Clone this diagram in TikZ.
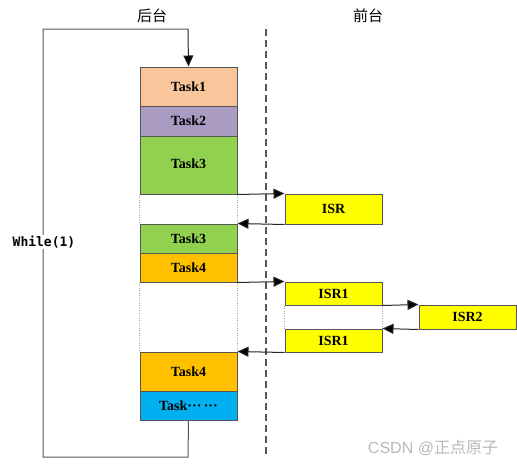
\documentclass[tikz,border=0pt]{standalone}
\usepackage{fontspec}
\setmainfont{Liberation Serif}
\newfontfamily\cjk{Noto Sans CJK SC}
\newfontfamily\monof{DejaVu Sans Mono}
\newfontfamily\sansf{Liberation Sans}
\usetikzlibrary{arrows.meta}
\definecolor{peach}{HTML}{F9C59B}
\definecolor{lav}{HTML}{A99BC1}
\definecolor{grn}{HTML}{92D050}
\definecolor{org}{HTML}{FFC000}
\definecolor{sky}{HTML}{00B0F0}
\definecolor{yel}{HTML}{FFFF00}
\definecolor{edge}{HTML}{555555}
\begin{document}
\begin{tikzpicture}[x=1pt,y=-1pt,
  blk/.style={draw=edge,line width=1pt,inner sep=0pt,font=\bfseries\fontsize{14}{16}\selectfont},
  conn/.style={draw=black!85,line width=1pt,-{Triangle[length=11pt,width=10pt,fill=black]}},
  loopl/.style={draw=edge,line width=1pt},
  dots/.style={draw=gray!70,dotted,line width=0.5pt}]
\useasboundingbox (0,0) rectangle (517,469);
% titles
\node[font=\cjk\fontsize{15}{17}\selectfont] (tb) at (152,16) {后台};
\node[font=\cjk\fontsize{15}{17}\selectfont] (tf) at (368,16) {前台};
% divider
\coordinate (dtop) at (266,29);
\coordinate (dbot) at (266,457);
\draw[edge,line width=1.2pt,dash pattern=on 7pt off 4pt] (dtop) -- (dbot);
% task boxes
\node[blk,fill=peach,minimum width=97pt,minimum height=39pt] (t1) at (188.5,86.5) {Task1};
\node[blk,fill=lav,minimum width=97pt,minimum height=30pt] (t2) at (188.5,121) {Task2};
\node[blk,fill=grn,minimum width=97pt,minimum height=58pt] (t3) at (188.5,165) {};
\node[font=\bfseries\fontsize{14}{16}\selectfont] (t3l) at (188.5,164) {Task3};
\node[blk,fill=grn,minimum width=97pt,minimum height=29pt] (t3b) at (188.5,238.5) {Task3};
\node[blk,fill=org,minimum width=97pt,minimum height=29pt] (t4) at (188.5,267.5) {Task4};
\node[blk,fill=org,minimum width=97pt,minimum height=39pt] (t4b) at (188.5,371.5) {Task4};
\node[blk,fill=sky,minimum width=97pt,minimum height=29pt] (t5) at (188.5,405.5) {Task\textperiodcentered\textperiodcentered\textperiodcentered\,\textperiodcentered\textperiodcentered\textperiodcentered};
% ISR boxes
\node[blk,fill=yel,minimum width=97pt,minimum height=30pt] (isr) at (333.5,209) {ISR};
\node[blk,fill=yel,minimum width=97pt,minimum height=23pt] (isr1) at (333.5,293.5) {ISR1};
\node[blk,fill=yel,minimum width=97pt,minimum height=24pt] (isr2) at (467.5,317) {ISR2};
\node[blk,fill=yel,minimum width=97pt,minimum height=23pt] (isr1b) at (333.5,340.5) {ISR1};
% dotted guides
\draw[dots] (t3.south west) -- (t3b.north west);
\draw[dots] (t3.south east) -- (t3b.north east);
\draw[dots] (t4.south west) -- (t4b.north west);
\draw[dots] (t4.south east) -- (t4b.north east);
\draw[dots] (isr1.south west) -- (isr1b.north west);
\draw[dots] (isr1.south east) -- (isr1b.north east);
% connectors
\draw[conn] (t3.south east) -- (isr.north west);
\draw[conn] (isr.south west) -- (t3b.north east);
\draw[conn] (t4.south east) -- (isr1.north west);
\draw[conn] (isr1.south east) -- (isr2.north west);
\draw[conn] (isr2.south west) -- (isr1b.north east);
\draw[conn] (isr1b.south west) -- (t4b.north east);
% loop
\coordinate (lt) at (188,29);
\coordinate (ltl) at (43,29);
\coordinate (lbl) at (43,457);
\coordinate (lb) at (188,457);
\draw[loopl] (t5.south) -- (lb) -- (lbl) -- (ltl) -- (lt);
\draw[conn] (lt) -- (t1.north);
\node[fill=white,inner sep=1pt,font=\monof\bfseries\fontsize{13}{15}\selectfont] (wh) at (44,242) {While(1)};
% watermark
\node[text=gray!55,font=\fontsize{16}{18}\selectfont] (wm) at (433,448) {\sansf CSDN @\cjk 正点原子};
\end{tikzpicture}
\end{document}
